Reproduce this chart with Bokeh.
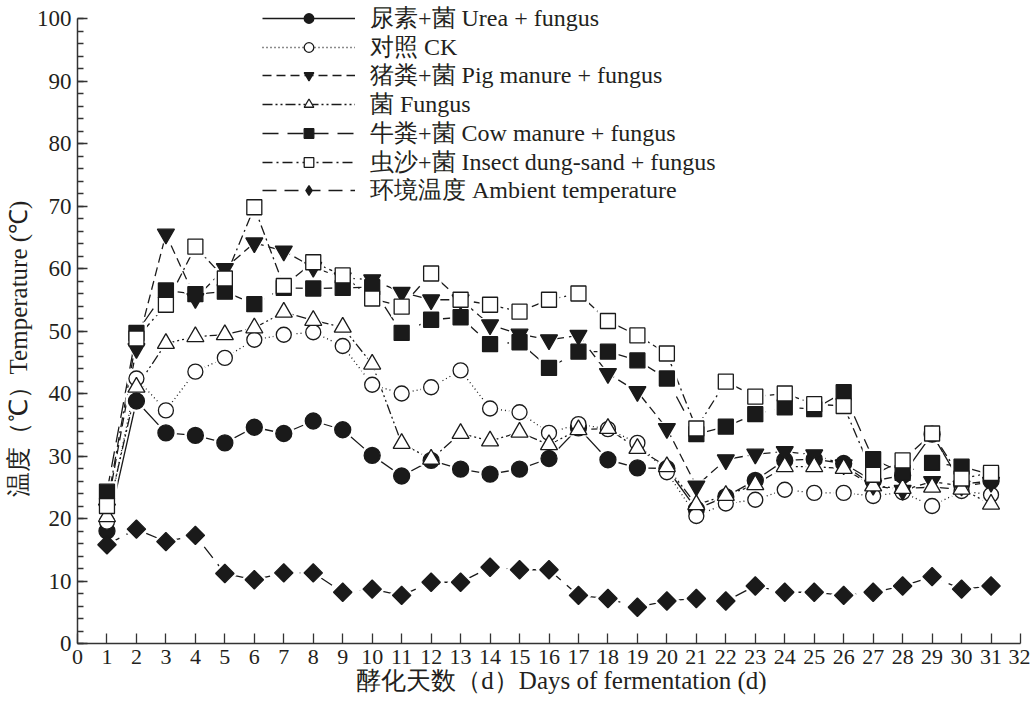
import numpy as np
from bokeh.plotting import figure
from bokeh.models import Legend, LegendItem, FixedTicker, SingleIntervalTicker
from bokeh.embed import file_html
from bokeh.resources import INLINE

days = list(range(1, 32))

urea = [18.0, 38.8, 33.7, 33.3, 32.1, 34.6, 33.6, 35.6, 34.2, 30.1, 26.8, 29.3, 27.9, 27.1, 27.9, 29.6,
        34.5, 29.4, 28.1, 28.0, 21.5, 23.5, 26.1, 29.3, 29.5, 28.8, 26.0, 26.9, 33.5, 25.5, 26.0]
ck = [19.5, 42.4, 37.3, 43.5, 45.7, 48.6, 49.4, 49.8, 47.6, 41.4, 40.0, 41.0, 43.7, 37.6, 37.0, 33.7,
      35.1, 34.3, 32.1, 27.4, 20.4, 22.4, 23.0, 24.6, 24.1, 24.1, 23.6, 24.2, 22.0, 24.4, 23.8]
pig = [21.5, 47.2, 65.5, 55.2, 60.0, 64.1, 62.8, 60.2, 58.5, 58.2, 56.2, 55.0, 55.0, 51.0, 49.5, 48.6,
       49.3, 43.2, 40.3, 34.4, 25.2, 29.4, 30.3, 30.7, 30.2, 28.6, 25.3, 24.5, 25.9, 25.2, 25.8]
fungus = [20.3, 41.0, 48.0, 49.1, 49.4, 50.5, 53.0, 51.7, 50.6, 44.7, 32.0, 29.5, 33.6, 32.4, 33.8, 31.8,
          34.2, 34.4, 31.2, 28.3, 22.2, 23.7, 25.4, 28.3, 28.3, 28.0, 25.2, 24.8, 25.0, 24.7, 22.3]
cow = [24.3, 49.7, 56.5, 55.9, 56.3, 54.3, 56.9, 56.8, 56.9, 57.0, 49.7, 51.8, 52.2, 47.9, 48.2, 44.1,
       46.7, 46.7, 45.3, 42.4, 33.5, 34.7, 36.7, 37.8, 37.5, 40.2, 29.5, 27.3, 28.9, 28.3, 27.0]
insect = [22.0, 48.8, 54.2, 63.5, 58.4, 69.8, 57.2, 61.0, 58.9, 55.2, 53.9, 59.2, 55.0, 54.2, 53.1, 55.0,
          56.0, 51.6, 49.3, 46.4, 34.4, 41.9, 39.5, 40.0, 38.3, 38.0, 27.0, 29.3, 33.6, 26.4, 27.3]
ambient = [15.8, 18.3, 16.3, 17.3, 11.2, 10.2, 11.3, 11.3, 8.2, 8.7, 7.7, 9.8, 9.8, 12.2, 11.8, 11.8,
           7.7, 7.2, 5.8, 6.8, 7.2, 6.8, 9.2, 8.2, 8.2, 7.7, 8.2, 9.2, 10.7, 8.7, 9.2]

labels = ["尿素+菌 Urea + fungus", "对照 CK", "猪粪+菌 Pig manure + fungus", "菌 Fungus",
          "牛粪+菌 Cow manure + fungus", "虫沙+菌 Insect dung-sand + fungus", "环境温度 Ambient temperature"]
x_ticks = list(range(0, 33))
NB = "\u00a0"
# non-breaking spaces only nudge the centred axis titles to where the reference has them
x_title = NB * 4 + "酵化天数（d）Days of fermentation (d)"
y_title = "温度（℃）Temperature (℃)" + NB * 8

FONT = "Liberation Serif"
INK = "#1a1a1a"
TXT = "#231f20"

# (values, dash, marker, size, fill, angle, legend marker)
series = [
    (urea, "solid", "circle", 16, INK, 0.0, "circle"),
    (ck, "1 3", "circle", 15, "white", 0.0, "circle"),
    (pig, "9 5", "inverted_triangle", 17, INK, 0.0, "inverted_triangle"),
    (fungus, "10 3 2 3 2 3", "triangle", 17, "white", 0.0, "triangle"),
    (cow, "16 9", "square", 15, INK, 0.0, "square"),
    (insect, "10 4 2 4", "square", 15, "white", 0.0, "square"),
    (ambient, "14 8", "square", 13, INK, np.pi / 4, "diamond"),
]

# frame reaches a little above 100 so the legend has room; the axis itself stops at 100
Y_TOP = 102.24
FRAME_H = 639
p = figure(width=1030, height=713, x_range=(0, 32), y_range=(0, Y_TOP),
           output_backend="svg", toolbar_location=None,
           min_border_left=77, min_border_right=10, min_border_top=4, min_border_bottom=70)
p.grid.visible = False
p.outline_line_color = None
p.background_fill_color = "white"

line_rs = []
for vals, dash, m, s, fill, ang, lm in series:
    line_rs.append(p.line(days, vals, line_color=INK, line_width=1.3, line_dash=dash))
for vals, dash, m, s, fill, ang, lm in series:
    p.scatter(days, vals, marker=m, size=s + 6, angle=ang, fill_color="white", line_color=None)
legend_marks = {}
for i, (vals, dash, m, s, fill, ang, lm) in enumerate(series):
    if lm != m:
        # plain diamond for the legend (the legend draws markers unrotated); hidden under the rotated squares
        legend_marks[i] = p.scatter(days, vals, marker=lm, size=s, fill_color=fill,
                                    line_color=INK, line_width=1.3)
mark_rs = []
for i, (vals, dash, m, s, fill, ang, lm) in enumerate(series):
    r = p.scatter(days, vals, marker=m, size=s, angle=ang, fill_color=fill,
                  line_color=INK, line_width=1.3)
    mark_rs.append(legend_marks.get(i, r))

# one legend per row so that the row pitch matches the reference
ITEM_H = 32
for i, (lab, lr, mr) in enumerate(zip(labels, line_rs, mark_rs)):
    center = 14 + 28.7 * i               # row centre, px below the frame top
    vy = FRAME_H - center - ITEM_H / 2   # legend bottom, px above the frame bottom
    lg = Legend(items=[LegendItem(label=lab, renderers=[lr, mr])], location=(185, vy),
                padding=0, margin=0, spacing=0,
                glyph_width=93, glyph_height=24, label_height=24, label_standoff=15,
                label_text_font=FONT, label_text_font_size="24px", label_text_color=TXT,
                border_line_alpha=0, background_fill_alpha=0)
    p.add_layout(lg)

xa = p.xaxis[0]
xa.ticker = FixedTicker(ticks=x_ticks)
xa.major_tick_in = 10
xa.major_tick_out = 0
xa.minor_tick_in = 0
xa.minor_tick_out = 0
xa.axis_label = x_title

ya = p.yaxis[0]
ya.ticker = SingleIntervalTicker(interval=10, num_minor_ticks=5)
ya.bounds = (0, 100)
ya.major_tick_in = 10
ya.major_tick_out = 0
ya.minor_tick_in = 6
ya.minor_tick_out = 0
ya.axis_label = y_title

for ax in (xa, ya):
    ax.axis_line_color = "#333333"
    ax.axis_line_width = 1.5
    ax.major_tick_line_color = "#333333"
    ax.minor_tick_line_color = "#333333"
    ax.major_tick_line_width = 1.3
    ax.minor_tick_line_width = 1.3
    ax.major_label_text_font = FONT
    ax.major_label_text_color = TXT
    ax.axis_label_text_font = FONT
    ax.axis_label_text_font_size = "25px"
    ax.axis_label_text_font_style = "normal"
    ax.axis_label_text_color = TXT
    ax.major_label_standoff = 6
ya.major_label_text_font_size = "23px"
xa.major_label_text_font_size = "22px"
ya.axis_label_standoff = 2
xa.axis_label_standoff = 0

open("out.html", "w").write(file_html(p, INLINE))
